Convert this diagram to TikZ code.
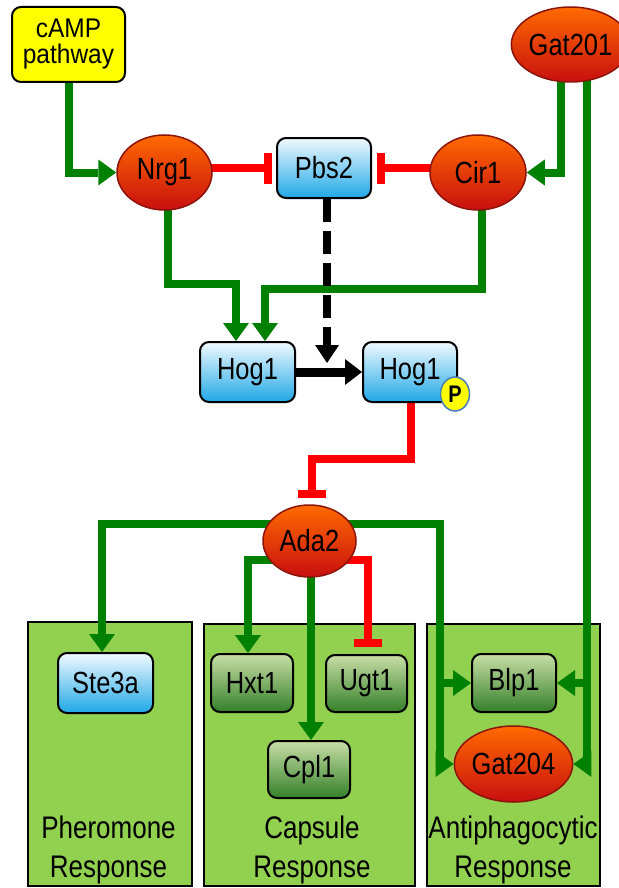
\documentclass[tikz,border=0pt]{standalone}
\usepackage{fontspec}
\setmainfont{Liberation Sans}
\usepackage{graphicx}
\usetikzlibrary{arrows.meta,shapes.geometric}
\pgfdeclarelayer{back}
\pgfdeclarelayer{mid}
\pgfsetlayers{back,mid,main}
\newcommand\tx[1]{\scalebox{1}[1.2]{#1}}
\definecolor{gline}{RGB}{0,128,0}
\definecolor{blueTop}{RGB}{242,249,255}
\definecolor{blueBot}{RGB}{30,168,230}
\definecolor{grTop}{RGB}{200,222,165}
\definecolor{grBot}{RGB}{52,128,42}
\definecolor{ovTop}{RGB}{255,106,0}
\definecolor{ovBot}{RGB}{200,15,15}
\definecolor{ovBorder}{RGB}{140,20,10}
\definecolor{panelG}{RGB}{146,208,80}
\definecolor{campY}{RGB}{255,255,0}
\definecolor{pBorder}{RGB}{74,126,187}
\begin{document}
\begin{tikzpicture}[x=1pt,y=-1pt,
  lbl/.style={font=\fontsize{25.5}{28}\selectfont, inner sep=0pt, align=center},
  bluebox/.style={rectangle, rounded corners=9pt, draw=black, line width=2pt, top color=blueTop, bottom color=blueBot, lbl},
  greenbox/.style={rectangle, rounded corners=9pt, draw=black, line width=2pt, top color=grTop, bottom color=grBot, lbl},
  oval/.style={ellipse, draw=ovBorder, line width=1.5pt, top color=ovTop, bottom color=ovBot, lbl},
  panel/.style={rectangle, draw=black, line width=2pt, fill=panelG, inner sep=0pt},
  plbl/.style={font=\fontsize{26}{30}\selectfont, inner sep=0pt, anchor=base},
  gact/.style={draw=gline, line width=8pt, -{Triangle[length=18pt,width=26pt,line width=0pt]}},
  rinh/.style={draw=red, line width=8pt, -{Bar[width=31pt]}},
  bact/.style={draw=black, line width=9pt, -{Triangle[length=17pt,width=26pt,line width=0pt]}},
  bdash/.style={draw=black, line width=8.5pt, dash pattern=on 23pt off 9pt, -{Triangle[length=18pt,width=24pt,line width=0pt]}}
]
\useasboundingbox (0,0) rectangle (618,888);

% background and panels
\begin{pgfonlayer}{back}
\fill[white] (0,0) rectangle (618,888);
\node[panel, minimum width=164pt, minimum height=264pt] (phero) at (110,754) {};
\node[panel, minimum width=211pt, minimum height=262pt] (caps) at (309.5,755) {};
\node[panel, minimum width=173pt, minimum height=262pt] (anti) at (513.5,755) {};
\end{pgfonlayer}

% nodes
\node[rectangle, rounded corners=9pt, draw=black, line width=2pt, fill=campY, minimum width=113pt, minimum height=75pt, font=\fontsize{24.5}{26}\selectfont, inner sep=0pt, align=center] (camp) at (68.5,44.5) {\scalebox{1}[1.1]{cAMP}\\\scalebox{1}[1.1]{pathway}};
\node[oval, minimum width=95pt, minimum height=75pt] (nrg1) at (164.5,172.5) {\tx{Nrg1}};
\node[bluebox, minimum width=94pt, minimum height=60pt] (pbs2) at (324,168) {\tx{Pbs2}};
\node[oval, minimum width=96pt, minimum height=75pt] (cir1) at (478,172.5) {\tx{Cir1}};
\node[oval, minimum width=91pt, minimum height=75pt] (gat201) at (570.5,44.5) {\tx{Gat201}};
\node[bluebox, minimum width=95pt, minimum height=60pt] (hog1a) at (247.5,372) {\tx{Hog1}};
\node[bluebox, minimum width=94pt, minimum height=60pt] (hog1b) at (410,372) {\tx{Hog1}};
\node[ellipse, draw=pBorder, line width=1.5pt, fill=campY, minimum width=29pt, minimum height=34pt, inner sep=0pt, font=\fontsize{20}{20}\selectfont\bfseries] (phos) at (455,394) {\tx{P}};
\node[oval, minimum width=93pt, minimum height=72pt] (ada2) at (309.5,541) {\tx{Ada2}};
\node[bluebox, minimum width=95pt, minimum height=60pt] (ste3a) at (105.5,683) {\tx{Ste3a}};
\node[greenbox, minimum width=82pt, minimum height=58pt] (hxt1) at (252,683) {\tx{Hxt1}};
\node[greenbox, minimum width=81pt, minimum height=57pt] (ugt1) at (366.5,683.5) {\tx{Ugt1}};
\node[greenbox, minimum width=82pt, minimum height=57pt] (cpl1) at (309,769.5) {\tx{Cpl1}};
\node[greenbox, minimum width=84pt, minimum height=58pt] (blp1) at (514,683) {\tx{Blp1}};
\node[oval, minimum width=97pt, minimum height=76pt] (gat204) at (513.5,764) {\tx{Gat204}};

% panel labels
\node[plbl] (pheroA) at (108.5,838) {\tx{Pheromone}};
\node[plbl] (pheroB) at (108.5,877) {\tx{Response}};
\node[plbl] (capsA) at (312,838) {\tx{Capsule}};
\node[plbl] (capsB) at (312,877) {\tx{Response}};
\node[plbl] (antiA) at (513,838) {\tx{Antiphagocytic}};
\node[plbl] (antiB) at (513,877) {\tx{Response}};

% junction coordinates
\coordinate (j1) at (236,284);
\coordinate (j2) at (265,289);
\coordinate (j3) at (312,459);
\coordinate (j4) at (102,524);
\coordinate (j5) at (440,683);
\coordinate (j6) at (440,764);
\coordinate (j7) at (248,560);
\coordinate (pt) at (327,363);

% connectors
\begin{pgfonlayer}{mid}
\draw[gact] (camp.south) |- (nrg1.west);
\draw[gact] ([xshift=-9.5pt]gat201.center) |- (cir1.east);
\draw[gact] ([xshift=16pt]gat201.center) |- (blp1.east);
\draw[gact] ([xshift=16pt]gat201.center) |- (gat204.east);
\draw[rinh, shorten >=4pt] (nrg1.center |- pbs2.west) -- (pbs2.west);
\draw[rinh, shorten >=5pt] (cir1.center |- pbs2.east) -- (pbs2.east);
\draw[gact] ([xshift=3.5pt]nrg1.center) |- (j1) -- (j1 |- hog1a.north);
\draw[gact] ([xshift=4pt]cir1.center) |- (j2) -- (j2 |- hog1a.north);
\draw[bdash] (pt |- pbs2.south) -- (pt);
\draw[bact] (hog1a.east) -- (hog1b.west);
\draw[rinh, shorten >=6pt, -{Bar[width=28pt]}] ([xshift=1pt]hog1b.south) |- (j3) -- (j3 |- ada2.north);
\draw[gact] (ada2.center |- j4) -| ([xshift=-3.5pt]ste3a.north);
\draw[gact] (ada2.center |- j4) -| (j5) -- (blp1.west);
\draw[gact] (ada2.center |- j4) -| (j6) -- (gat204.west);
\draw[gact] (ada2.center |- j7) -| ([xshift=-4pt]hxt1.north);
\draw[gact] ([xshift=1.5pt]ada2.center) -- ([xshift=1.5pt]ada2.center |- cpl1.north);
\draw[rinh, shorten >=7pt, -{Bar[width=28pt]}] (ada2.center |- j7) -| ([xshift=1.5pt]ugt1.north);
\end{pgfonlayer}
\end{tikzpicture}
\end{document}
